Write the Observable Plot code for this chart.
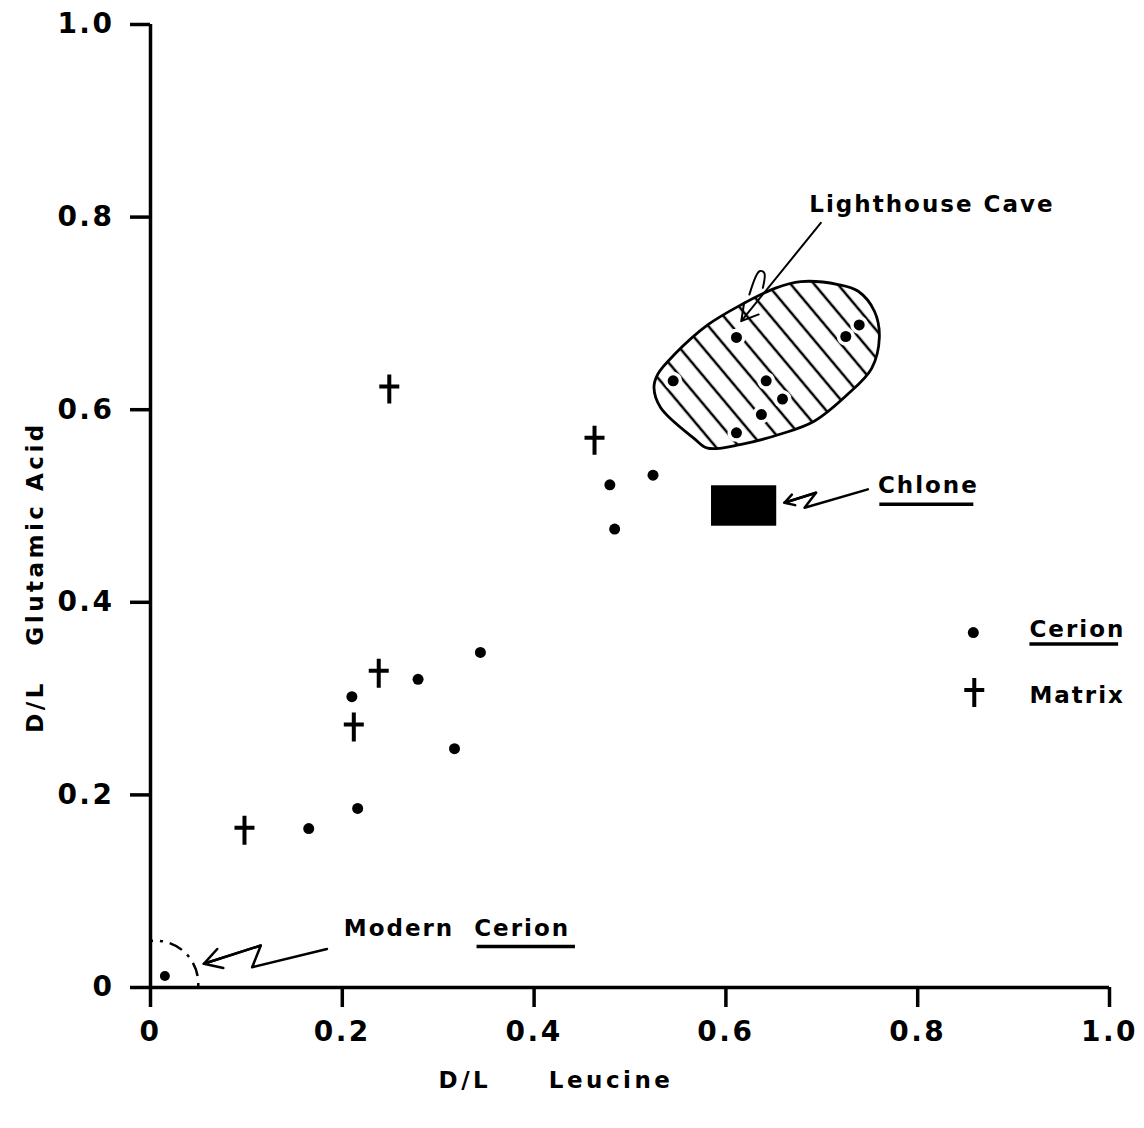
<!DOCTYPE html>
<html>
<head>
<meta charset="utf-8">
<script src="https://cdn.jsdelivr.net/npm/d3@7"></script>
<script src="https://cdn.jsdelivr.net/npm/@observablehq/plot@0.6"></script>
<style>
  html, body { margin: 0; padding: 0; background: #fff; }
  g[aria-label$="-axis tick"] { stroke-width: 3.5px; }
</style>
</head>
<body>
<div id="chart"></div>
<script>
// ---- data ----
const cerionX = [0.165, 0.216, 0.210, 0.279, 0.317, 0.344, 0.479, 0.484, 0.524];
const cerionY = [0.165, 0.186, 0.302, 0.320, 0.248, 0.348, 0.522, 0.476, 0.532];
const matrixX = [0.098, 0.212, 0.238, 0.249, 0.463];
const matrixY = [0.166, 0.273, 0.329, 0.624, 0.571];
const modernX = [0.015];
const modernY = [0.012];
const caveX = [0.611, 0.725, 0.739, 0.545, 0.642, 0.659, 0.637, 0.611];
const caveY = [0.675, 0.676, 0.688, 0.630, 0.630, 0.611, 0.595, 0.576];
// Lighthouse Cave outline
const caveOutlineX = [0.525, 0.532, 0.567, 0.581, 0.616, 0.658, 0.692, 0.727, 0.752, 0.760, 0.755, 0.738, 0.717, 0.678, 0.651, 0.616, 0.581, 0.546, 0.529];
const caveOutlineY = [0.623, 0.602, 0.570, 0.560, 0.564, 0.575, 0.588, 0.616, 0.643, 0.675, 0.702, 0.723, 0.730, 0.733, 0.726, 0.709, 0.688, 0.657, 0.637];
// Chlone box
const chloneX = [0.585, 0.653];
const chloneY = [0.479, 0.521];
// ticks
const tickValues = [0, 0.2, 0.4, 0.6, 0.8, 1.0];
const tickLabels = ["0", "0.2", "0.4", "0.6", "0.8", "1.0"];
// annotation labels
const labelText = ["Lighthouse Cave", "Chlone", "Modern\u00a0\u00a0Cerion", "Cerion", "Matrix"];
const labelX = [0.687, 0.7585, 0.2015, 0.9165, 0.9165];
const labelY = [0.813, 0.521, 0.061, 0.372, 0.303];
// underlines
const ulX1 = [0.760, 0.340, 0.9165];
const ulX2 = [0.858, 0.4426, 1.009];
const ulY = [0.5018, 0.0425, 0.3568];
// zigzag arrows
const chloneArrowX = [0.661, 0.694, 0.682, 0.748];
const chloneArrowY = [0.5034, 0.5138, 0.4982, 0.5173];
const modernArrowX = [0.0556, 0.115, 0.106, 0.184];
const modernArrowY = [0.0246, 0.0436, 0.021, 0.040];
const caveArrow = {x1: 0.699, y1: 0.794, x2: 0.616, y2: 0.692};
const caveLoopX = [0.6245, 0.635, 0.640, 0.6385];
const caveLoopY = [0.7196, 0.7438, 0.742, 0.7265];
// legend symbols
const legendDot = {x: 0.858, y: 0.3686};
const legendDagger = {x: 0.859, y: 0.309};
// modern cerion dashed circle
const modernCircle = {x: 0.005, y: 0.004};
// axis titles
const xTitle = "D/L\u00a0\u00a0\u00a0\u00a0\u00a0Leucine";
const yTitle = "D/L\u00a0\u00a0\u00a0Glutamic Acid";

// ---- build tables ----
const zip = (xs, ys) => xs.map((x, i) => ({x, y: ys[i]}));
const cerion = zip(cerionX, cerionY);
const matrix = zip(matrixX, matrixY);
const modern = zip(modernX, modernY);
const cave = zip(caveX, caveY);
const caveOutline = zip(caveOutlineX, caveOutlineY);
const labels = labelText.map((t, i) => ({t, x: labelX[i], y: labelY[i]}));
const underlines = ulX1.map((x1, i) => ({x1, x2: ulX2[i], y: ulY[i]}));
const chloneArrow = zip(chloneArrowX, chloneArrowY);
const modernArrow = zip(modernArrowX, modernArrowY);
const caveLoop = zip(caveLoopX, caveLoopY);

const dagger = {
  draw(ctx) {
    ctx.moveTo(0, -12); ctx.lineTo(0, 17);
    ctx.moveTo(-10, 0); ctx.lineTo(10, 0);
  }
};

const tickFmt = d => tickLabels[tickValues.indexOf(d)] ?? String(d);
const F = 23;

const plot = Plot.plot({
  width: 1144,
  height: 1128,
  marginLeft: 150,
  marginRight: 35,
  marginTop: 24,
  marginBottom: 141,
  style: {
    fontFamily: "'DejaVu Sans', sans-serif",
    fontWeight: "bold",
    fontSize: "28px",
    letterSpacing: "2.5px",
    color: "black",
    background: "white"
  },
  x: {domain: [0, 1], ticks: tickValues, tickFormat: tickFmt, tickSize: 20, tickPadding: 14, label: null},
  y: {domain: [0, 1], ticks: tickValues, tickFormat: tickFmt, tickSize: 20, tickPadding: 16, label: null},
  marks: [
    // axis lines
    Plot.ruleX([0], {stroke: "black", strokeWidth: 3.5}),
    Plot.ruleY([0], {stroke: "black", strokeWidth: 3.5}),
    // Lighthouse Cave hatched region
    Plot.line(caveOutline, {x: "x", y: "y", curve: "catmull-rom-closed", fill: "url(#hatch)", stroke: "black", strokeWidth: 2.8}),
    Plot.dot(cave, {x: "x", y: "y", r: 5.5, fill: "black", stroke: "white", strokeWidth: 7, paintOrder: "stroke"}),
    Plot.line(caveLoop, {x: "x", y: "y", curve: "catmull-rom", stroke: "black", strokeWidth: 2}),
    Plot.arrow([caveArrow], {x1: "x1", y1: "y1", x2: "x2", y2: "y2", stroke: "black", strokeWidth: 2, headLength: 14}),
    // Chlone
    Plot.rect([0], {x1: () => chloneX[0], x2: () => chloneX[1], y1: () => chloneY[0], y2: () => chloneY[1], fill: "black"}),
    Plot.line(chloneArrow, {x: "x", y: "y", stroke: "black", strokeWidth: 2.5}),
    Plot.arrow([0], {x1: () => chloneArrowX[1], y1: () => chloneArrowY[1], x2: () => chloneArrowX[0], y2: () => chloneArrowY[0], stroke: "black", strokeWidth: 2.5, headLength: 14}),
    // Modern Cerion
    Plot.dot([modernCircle], {x: "x", y: "y", r: 43, fill: "none", stroke: "black", strokeWidth: 2.5, strokeDasharray: "14,7,3,7", clip: true}),
    Plot.dot(modern, {x: "x", y: "y", r: 5, fill: "black"}),
    Plot.line(modernArrow, {x: "x", y: "y", stroke: "black", strokeWidth: 2.5}),
    Plot.arrow([0], {x1: () => modernArrowX[1], y1: () => modernArrowY[1], x2: () => modernArrowX[0], y2: () => modernArrowY[0], stroke: "black", strokeWidth: 2.5, headLength: 14}),
    // data points
    Plot.dot(cerion, {x: "x", y: "y", r: 5.5, fill: "black"}),
    Plot.dot(matrix, {x: "x", y: "y", symbol: dagger, fill: "none", stroke: "black", strokeWidth: 4}),
    // legend symbols
    Plot.dot([legendDot], {x: "x", y: "y", r: 5.5, fill: "black"}),
    Plot.dot([legendDagger], {x: "x", y: "y", symbol: dagger, fill: "none", stroke: "black", strokeWidth: 4}),
    // labels
    Plot.text(labels, {x: "x", y: "y", text: "t", textAnchor: "start", lineAnchor: "middle", fontSize: F, fontWeight: "bold", fill: "black"}),
    Plot.link(underlines, {x1: "x1", x2: "x2", y1: "y", y2: "y", stroke: "black", strokeWidth: 3.5}),
    // axis titles
    Plot.text([xTitle], {text: d => d, frameAnchor: "bottom", textAnchor: "middle", dx: -74, dy: 93, lineAnchor: "middle", fontSize: F, fontWeight: "bold", fill: "black"}),
    Plot.text([yTitle], {text: d => d, frameAnchor: "left", textAnchor: "middle", rotate: -90, dx: -115, dy: 71, lineAnchor: "middle", fontSize: F, fontWeight: "bold", fill: "black"})
  ]
});

// letter spacing: a bit tighter on annotations, wider on axis titles
plot.querySelectorAll("text").forEach(t => {
  if (t.textContent === xTitle || t.textContent === yTitle) t.style.letterSpacing = "3.5px";
  else if (labelText.includes(t.textContent)) t.style.letterSpacing = "2px";
});

const defs = document.createElementNS("http://www.w3.org/2000/svg", "defs");
defs.innerHTML = '<pattern id="hatch" patternUnits="userSpaceOnUse" width="18" height="18" patternTransform="rotate(-40)"><line x1="9" y1="-2" x2="9" y2="20" stroke="black" stroke-width="2.5"/></pattern>';
plot.insertBefore(defs, plot.firstChild);
document.getElementById("chart").appendChild(plot);
</script>
</body>
</html>
